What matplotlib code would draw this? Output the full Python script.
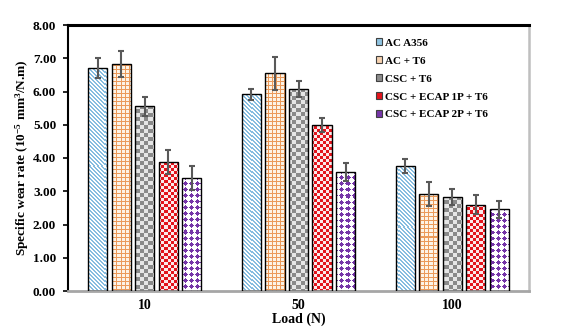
import numpy as np
import matplotlib
matplotlib.use("Agg")
import matplotlib.pyplot as plt
from matplotlib.patches import Patch

plt.rcParams['font.family'] = ['Liberation Serif', 'DejaVu Serif']
plt.rcParams['font.weight'] = 'bold'
plt.rcParams['mathtext.fontset'] = 'custom'
plt.rcParams['mathtext.rm'] = 'Liberation Serif:bold'
plt.rcParams['mathtext.bf'] = 'Liberation Serif:bold'
plt.rcParams['mathtext.default'] = 'rm'

# ---- data ----
loads = ["10", "50", "100"]
series = ["AC A356", "AC + T6", "CSC + T6", "CSC + ECAP 1P + T6", "CSC + ECAP 2P + T6"]
ac_a356 = [6.71, 5.91, 3.76]
ac_t6 = [6.82, 6.55, 2.92]
csc_t6 = [5.55, 6.08, 2.83]
csc_ecap1 = [3.88, 5.00, 2.60]
csc_ecap2 = [3.40, 3.59, 2.46]
err_ac_a356 = [0.30, 0.18, 0.20]
err_ac_t6 = [0.39, 0.50, 0.35]
err_csc_t6 = [0.28, 0.25, 0.24]
err_csc_ecap1 = [0.35, 0.21, 0.28]
err_csc_ecap2 = [0.36, 0.27, 0.25]
yticks = [0, 1, 2, 3, 4, 5, 6, 7, 8]

values = [ac_a356, ac_t6, csc_t6, csc_ecap1, csc_ecap2]
errors = [err_ac_a356, err_ac_t6, err_csc_t6, err_csc_ecap1, err_csc_ecap2]

W, H = 566, 332
fig = plt.figure(figsize=(W / 100, H / 100), dpi=100)
ax_l, ax_r, ax_b, ax_t = 68, 529, 291, 25
ax = fig.add_axes([ax_l / W, 1 - ax_b / H, (ax_r - ax_l) / W, (ax_b - ax_t) / H])

pw, ph = ax_r - ax_l, ax_b - ax_t
yy, xx = np.mgrid[0:ph, 0:pw]


def rgb(h):
    h = h.lstrip('#')
    return np.array([int(h[i:i + 2], 16) / 255 for i in (0, 2, 4)])


def two_tone(mask, c_on, c_off):
    img = np.empty((ph, pw, 3))
    img[mask] = rgb(c_on)
    img[~mask] = rgb(c_off)
    return img


def diamonds(px, py, radius):
    return (np.abs((xx % px) - px // 2) + np.abs((yy % py) - py // 2)) <= radius


patterns = [
    two_tone(((xx - yy) % 4) < 2, '#86bde0', '#ffffff'),
    two_tone((xx % 4 == 0) | (yy % 4 == 0), '#eb9a5a', '#fdf3e6'),
    two_tone(((xx // 4 + yy // 4) % 2) == 0, '#8a8a8a', '#e6e6e6'),
    two_tone(((xx // 3 + yy // 3) % 2) == 0, '#e3141c', '#fbe9ea'),
    two_tone(diamonds(6, 6, 2), '#7535a8', '#ffffff'),
]
legend_colors = ['#8fc3e0', '#f6d2b0', '#8c8c8c', '#e3141c', '#7535a8']

n = len(series)
x = np.arange(len(loads))
pitch = 0.153
width = 0.124

for i in range(n):
    pos = x + (i - (n - 1) / 2) * pitch
    bars = ax.bar(pos, values[i], width, color='none', edgecolor='black', linewidth=1.0, zorder=3)
    for b in bars:
        im = ax.imshow(patterns[i], extent=(0, 1, 0, 1), transform=ax.transAxes,
                       interpolation='nearest', aspect='auto', zorder=2, origin='upper')
        im.set_clip_path(b)
    ax.errorbar(pos, values[i], yerr=errors[i], fmt='none', ecolor='#595959',
                elinewidth=1.5, capsize=2.5, capthick=1.5, zorder=4)

ax.set_xlim(-0.5, len(loads) - 0.5)
ax.set_ylim(0, 8)
ax.set_yticks(yticks)
ax.set_yticklabels([f"{v:.2f}" for v in yticks], fontsize=9.5, fontweight='bold')
ax.set_xticks(x)
ax.set_xticklabels(loads, fontsize=10, fontweight='bold')
ax.tick_params(axis='x', length=0, pad=6)
ax.tick_params(axis='y', length=3.5, width=1.2, direction='out', pad=5)

ax.spines['top'].set_linewidth(2.2)
ax.spines['top'].set_color('black')
ax.spines['left'].set_linewidth(1.5)
ax.spines['left'].set_color('black')
ax.spines['bottom'].set_linewidth(2.0)
ax.spines['bottom'].set_color('#a6a6a6')
ax.spines['right'].set_linewidth(1.8)
ax.spines['right'].set_color('#bfbfbf')

ax.set_xlabel("Load (N)", fontsize=10, fontweight='bold', labelpad=0)
ax.set_ylabel(r"Specific wear rate (10$^{-5}$ mm$^{3}$/N.m)", fontsize=9.5, fontweight='bold', labelpad=1)

handles = [Patch(facecolor=c, edgecolor='#404040', linewidth=0.8) for c in legend_colors]
leg = ax.legend(handles, series, loc='upper left', bbox_to_anchor=(0.664, 0.958), frameon=False,
                prop={'family': 'Liberation Serif', 'weight': 'bold', 'size': 8},
                handlelength=0.55, handleheight=0.55, handletextpad=0.25, labelspacing=0.78,
                borderaxespad=0, borderpad=0.2)

fig.savefig("out.png", dpi=100, facecolor='white')
